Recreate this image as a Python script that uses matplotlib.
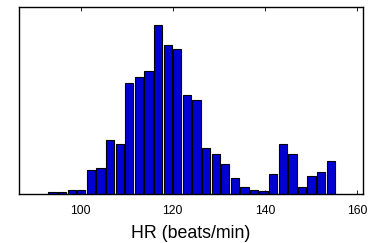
import numpy as np
import matplotlib
matplotlib.use("Agg")
import matplotlib.pyplot as plt

plt.rcParams['font.family'] = ['Liberation Sans', 'DejaVu Sans']

# histogram of heart rate (counts)
counts = [1, 1, 2, 2, 12, 13, 27, 25, 56, 59, 62, 85, 75, 73, 50,
          47, 23, 20, 15, 8, 3.5, 2, 1.3, 10, 25, 20, 3.3, 9, 11, 16.5]
first_center = 93.9
last_center = 154.3
xticks = [100, 120, 140, 160]

centers = np.linspace(first_center, last_center, len(counts))
step = centers[1] - centers[0]

fig = plt.figure(figsize=(3.77, 2.43), dpi=100)
ax = fig.add_axes([0.050, 0.202, 0.913, 0.769])

ax.bar(centers, counts, width=step * 0.86, color='#0000d2',
       edgecolor='black', linewidth=0.8)

ax.set_xlim(86.6, 161.3)
ax.set_ylim(0, 94)
ax.set_xticks(xticks)
ax.set_yticks([])
ax.tick_params(axis='x', direction='in', top=True, length=3, width=0.6,
               labelsize=8.7, pad=8)
for s in ax.spines.values():
    s.set_linewidth(1.0)
ax.set_xlabel('HR (beats/min)', fontsize=12.8, labelpad=6)

fig.savefig('out.png', dpi=100)
